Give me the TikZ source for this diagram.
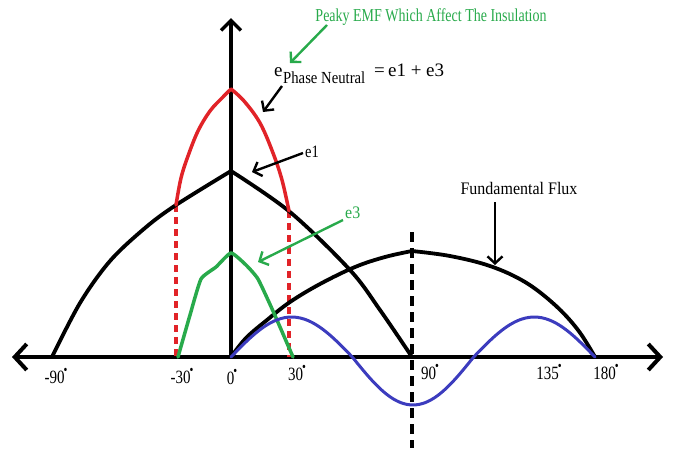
\documentclass[tikz,border=0pt]{standalone}
\usepackage{fontspec}
\usepackage{graphicx}
\setmainfont{Liberation Serif}
\usetikzlibrary{arrows.meta}
\definecolor{myred}{RGB}{225,35,40}
\definecolor{mygreen}{RGB}{40,170,75}
\definecolor{myblue}{RGB}{60,60,190}
\newcommand\sq[3]{\scalebox{1}[#2]{\fontsize{#1}{#1}\selectfont #3}}
\newcommand\dg{\kern-1pt\raisebox{0.45em}{\fontsize{11}{11}\selectfont •}}
\begin{document}
\begin{tikzpicture}[x=1pt,y=-1pt,
  axis/.style={line width=4pt,line cap=round,-{Straight Barb[length=12pt,width=26pt,line width=4pt]}},
  vaxis/.style={line width=3.5pt,-{Straight Barb[length=10pt,width=20pt,line width=3.5pt]}},
  curve/.style={line width=3.8pt,line join=round,line cap=round},
  ann/.style={line width=2.4pt,-{Straight Barb[length=7pt,width=15pt,line width=2.4pt]}},
  tick/.style={inner sep=0pt},
  lbl/.style={inner sep=0pt}]
\useasboundingbox (0,0) rectangle (674,448);
% axes
\coordinate (xl) at (12,357);
\coordinate (xr) at (663,357);
\coordinate (o) at (231,357);
\coordinate (yt) at (231,18);
\draw[axis] (o) -- (xr);
\draw[axis] (o) -- (xl);
\draw[vaxis] (o) -- (yt);
% dashed verticals
\coordinate (d90t) at (412,232);
\coordinate (d90b) at (412,448);
\draw[line width=4pt,dash pattern=on 10pt off 6pt] (d90t) -- (d90b);
\coordinate (rl1) at (176,205);
\coordinate (rl2) at (176,357);
\coordinate (rr1) at (289,211);
\coordinate (rr2) at (289,357);
\draw[myred,line width=4pt,dash pattern=on 7pt off 5pt] (rl1) -- (rl2);
\draw[myred,line width=4pt,dash pattern=on 7pt off 5pt] (rr1) -- (rr2);
% e1
\draw[curve] plot[smooth,tension=0.55] coordinates {(52,357) (80,303) (110,261) (145,228) (176,205) (231,171)};
\draw[curve] plot[smooth,tension=0.55] coordinates {(231,171) (290,212) (350,270) (380,310) (412,357)};
% fundamental flux
\draw[curve] plot[smooth,tension=0.6] coordinates {(231,357) (246,338) (267,320) (290,302) (320,284) (355,267) (385,257) (412,251)};
\draw[curve] plot[smooth,tension=0.6] coordinates {(412,251) (450,256) (490,266) (525,282) (555,305) (578,330) (595,357)};
% red peaky
\draw[curve,myred,line width=3.5pt] plot[smooth,tension=0.6] coordinates {(176,205) (181,178) (188,156) (198,131) (210,111) (222,98) (231,89)};
\draw[curve,myred,line width=3.5pt] plot[smooth,tension=0.6] coordinates {(231,89) (244,101) (260,123) (273,153) (282,180) (289,211)};
% green e3
\draw[curve,mygreen,line width=3.5pt] plot[smooth,tension=0.3] coordinates {(178,357) (190,315) (201,279) (216,267) (231,253) (246,265) (258,279) (273,311) (293,357)};
% blue third harmonic
\draw[curve,myblue,line width=3pt] plot[domain=0:180,samples=90,smooth] ({231+2.022*\x},{357-ifthenelse(sin(3*\x)>0,40,48)*sin(3*\x)});
% texts
\node[lbl,text=mygreen] (peaky) at (431,17) {\sq{14}{1.3}{Peaky EMF Which Affect The Insulation}};
\node[lbl,anchor=base west] (ee) at (274,76) {\fontsize{19}{19}\selectfont e};
\node[lbl,anchor=base west] (pn) at (283,83) {\sq{14.7}{1.15}{Phase Neutral}};
\node[lbl,anchor=base west] (sum) at (374,76) {\fontsize{19}{19}\selectfont =\,e1 + e3};
\node[lbl,anchor=base west] (e1) at (305,157) {\sq{14.5}{1.2}{e1}};
\node[lbl,anchor=base west,text=mygreen] (e3) at (345,218) {\sq{16}{1.1}{e3}};
\node[lbl] (ff) at (519,188) {\sq{16}{1.1}{Fundamental Flux}};
% tick labels
\node[tick] (t1) at (56,376) {\sq{15}{1.25}{-90\dg}};
\node[tick] (t2) at (182,376) {\sq{15}{1.25}{-30\dg}};
\node[tick] (t3) at (232,377) {\sq{15}{1.25}{0\dg}};
\node[tick] (t4) at (297,373) {\sq{15}{1.25}{30\dg}};
\node[tick] (t5) at (430,372) {\sq{15}{1.25}{90\dg}};
\node[tick] (t6) at (549,372) {\sq{15}{1.25}{135\dg}};
\node[tick] (t7) at (606,372) {\sq{15}{1.25}{180\dg}};
% annotation arrows
\coordinate (a1s) at (327,25); \coordinate (a1e) at (290,63);
\coordinate (a2s) at (282,86); \coordinate (a2e) at (263,112);
\coordinate (a3s) at (303,153); \coordinate (a3e) at (252,172);
\coordinate (a4s) at (343,220); \coordinate (a4e) at (258,262);
\coordinate (a5s) at (495,202); \coordinate (a5e) at (495,265);
\draw[ann,mygreen] (a1s) -- (a1e);
\draw[ann] (a2s) -- (a2e);
\draw[ann] (a3s) -- (a3e);
\draw[ann,mygreen] (a4s) -- (a4e);
\draw[ann] (a5s) -- (a5e);
\end{tikzpicture}
\end{document}
